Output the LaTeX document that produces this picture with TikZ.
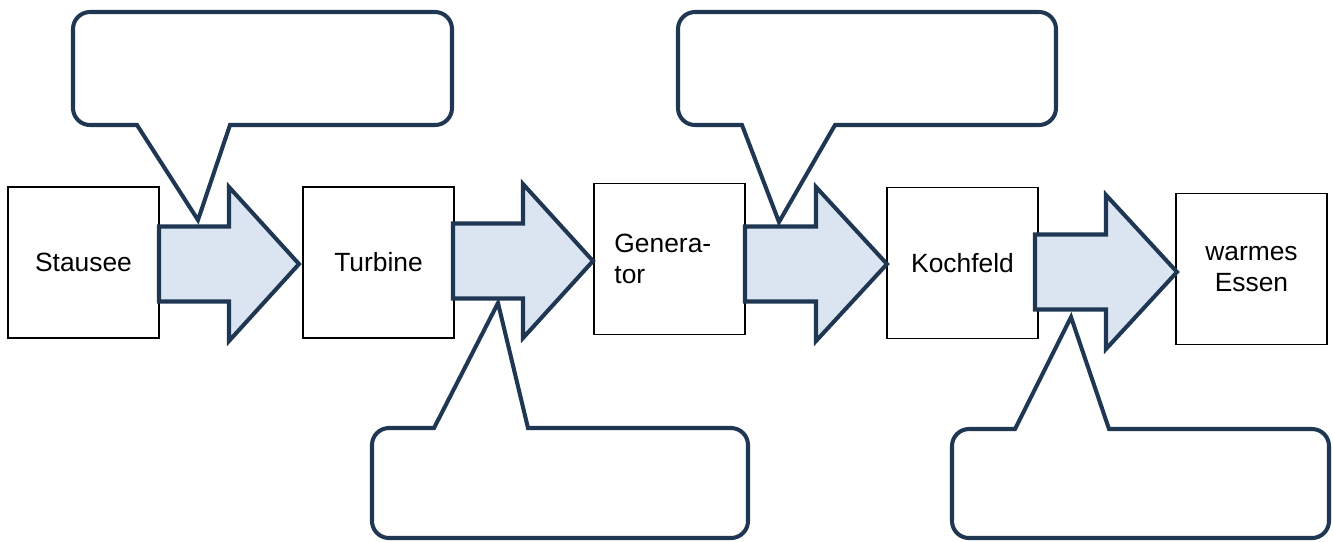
\documentclass[tikz,border=0pt]{standalone}
\usepackage{fontspec}
\setmainfont{Liberation Sans}
\definecolor{navy}{RGB}{31,55,82}
\definecolor{hellblau}{RGB}{219,229,241}
\tikzset{
  kasten/.style={draw, line width=0.45pt, minimum width=1.51cm, minimum height=1.51cm, inner sep=0pt, font=\fontsize{7.5}{9}\selectfont},
  pfeil/.style={draw=navy, fill=hellblau, line width=1.15pt, line join=miter},
  blase/.style={draw=navy, fill=white, line width=1.15pt, line join=miter}
}
% block arrow: x start, x head, x tip, y middle
\newcommand{\blockpfeil}[4]{%
  \draw[pfeil] (#1,#4-37.5) -- (#2,#4-37.5) -- (#2,#4-77) -- (#3,#4)
    -- (#2,#4+77) -- (#2,#4+37.5) -- (#1,#4+37.5) -- cycle;}
\begin{document}
\begin{tikzpicture}[x=0.01cm,y=-0.01cm]
    \useasboundingbox (0,0) rectangle (1333,541);

    %boxes:
    \node[kasten] (stausee) at (83.5,262.5) {Stausee};
    \node[kasten] (turbine) at (378.5,262.5) {Turbine};
    \node[kasten, text width=1.1cm, align=left] (generator) at (669.5,259) {Genera-\\tor};
    \node[kasten] (kochfeld) at (962.5,263) {Kochfeld};
    \node[kasten, align=center] (essen) at (1251.5,269) {warmes\\Essen};

    %arrows:
    \blockpfeil{159}{229}{299}{264}
    \blockpfeil{453}{523}{593}{261}
    \blockpfeil{745}{816}{887}{264}
    \blockpfeil{1035}{1106}{1177}{272}

    %callouts above:
    \draw[blase] (198,220) -- (230,125) [rounded corners=1.7mm] -- (452,125)
      -- (452,12) -- (73,12) -- (73,125) [sharp corners] -- (137,125) -- cycle;
    \draw[blase] (779,222) -- (835,125) [rounded corners=1.7mm] -- (1056,125)
      -- (1056,12) -- (678,12) -- (678,125) [sharp corners] -- (742,125) -- cycle;

    %callouts below:
    \draw[blase] (498,303) -- (528,428) [rounded corners=1.7mm] -- (748,428)
      -- (748,538) -- (372,538) -- (372,428) [sharp corners] -- (434,428) -- cycle;
    \draw[blase] (1071,317) -- (1109,429) [rounded corners=1.7mm] -- (1329,429)
      -- (1329,538) -- (952,538) -- (952,429) [sharp corners] -- (1015,429) -- cycle;

\end{tikzpicture}
\end{document}
